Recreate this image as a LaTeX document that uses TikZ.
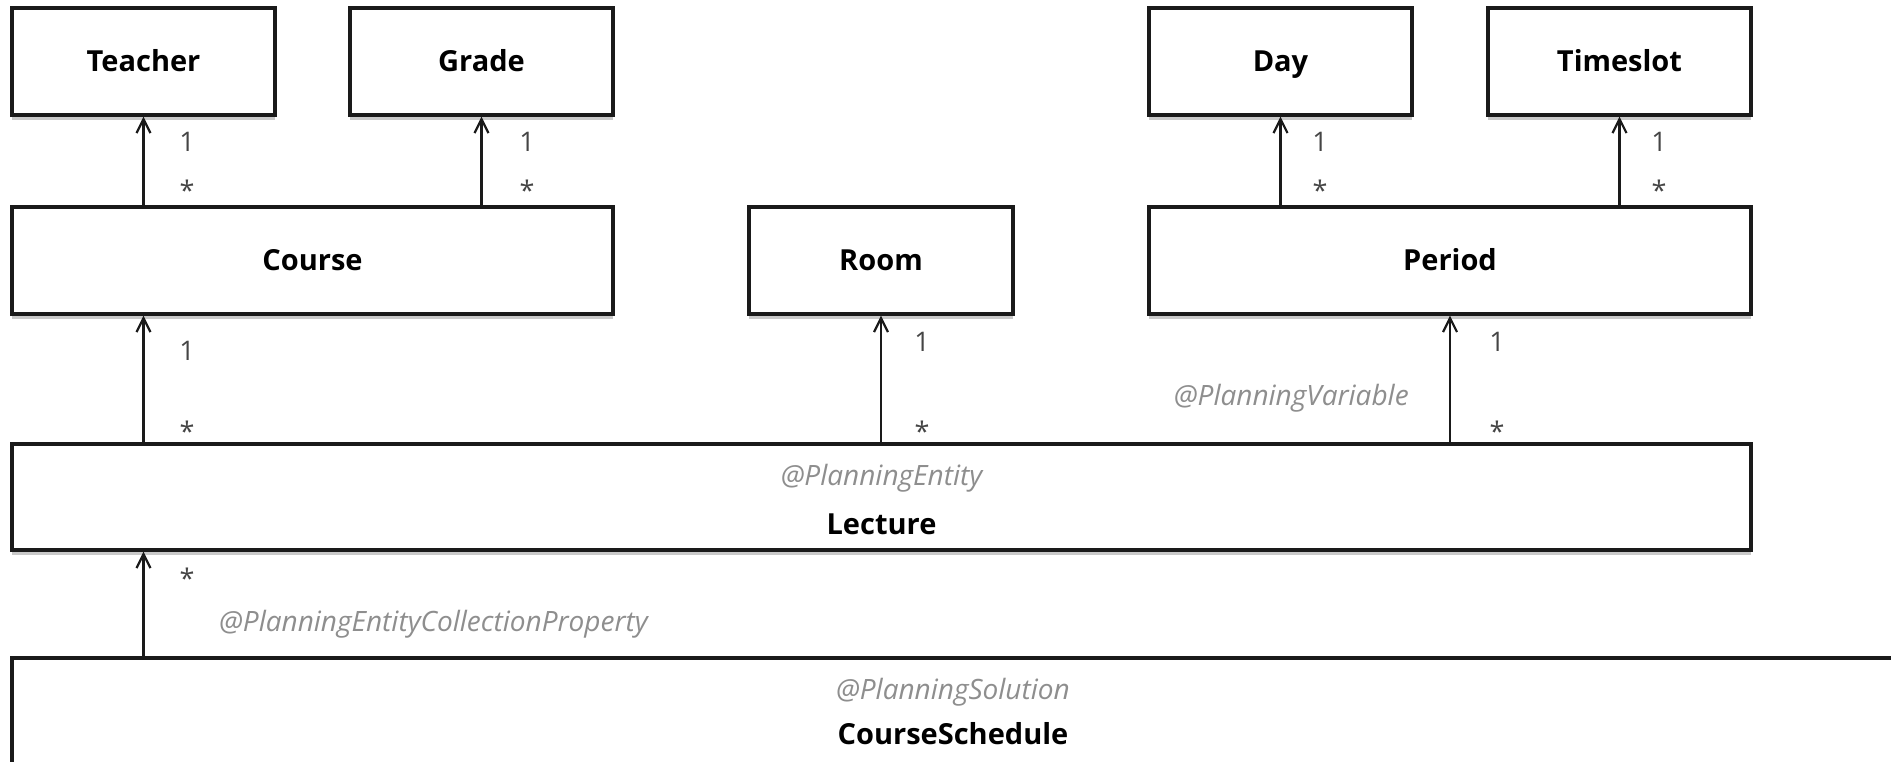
\documentclass[tikz,border=0pt]{standalone}
\usepackage{fontspec}
\setmainfont{Open Sans}
\usetikzlibrary{arrows.meta,shadows}
\definecolor{stereo}{HTML}{8E8E8E}
\definecolor{mult}{HTML}{454545}
\definecolor{edge}{HTML}{1A1A1A}
\begin{document}
\begin{tikzpicture}[x=1pt,y=-1pt,
  classbox/.style={draw=edge, line width=3.2pt, fill=white, minimum height=107pt,
    inner sep=0pt, font=\fontsize{29}{34}\selectfont\bfseries,
    text height=21pt, text depth=0pt,
    drop shadow={shadow xshift=0pt, shadow yshift=-5pt, opacity=0.35, fill=black!60}},
  classname/.style={font=\fontsize{29}{34}\selectfont\bfseries, inner sep=0pt,
    text height=21pt, text depth=0pt},
  assoc/.style={draw=edge, line width=2.2pt,
    -{Straight Barb[length=14pt,width=14pt,line width=2.2pt]}},
  multlabel/.style={font=\fontsize{27}{32}\selectfont, text=mult, inner sep=0pt},
  stereotype/.style={font=\fontsize{28}{33}\selectfont\itshape, text=stereo, inner sep=0pt},
  ]
\useasboundingbox (0,0) rectangle (1891,762);
\fill[white] (0,0) rectangle (1891,762);

% classes
\node[classbox, minimum width=263pt] (teacher)  at (143.5,61.5) {Teacher};
\node[classbox, minimum width=263pt] (grade)    at (481.5,61.5) {Grade};
\node[classbox, minimum width=263pt] (day)      at (1280.5,61.5) {Day};
\node[classbox, minimum width=263pt] (timeslot) at (1619.5,61.5) {Timeslot};
\node[classbox, minimum width=601pt] (course)   at (312.5,260.5) {Course};
\node[classbox, minimum width=264pt] (room)     at (881,260.5) {Room};
\node[classbox, minimum width=602pt] (period)   at (1450,260.5) {Period};
\node[classbox, minimum width=1739pt, minimum height=106pt] (lecture) at (881.5,497) {};
\node[stereotype] (lectureTag)  at (881.5,478) {@PlanningEntity};
\node[classname]  (lectureName) at (881.5,524) {Lecture};
\node[classbox, minimum width=1882pt, minimum height=106pt] (schedule) at (953,711) {};
\node[stereotype] (scheduleTag)  at (953,692) {@PlanningSolution};
\node[classname]  (scheduleName) at (953,734) {CourseSchedule};

% associations
\draw[assoc] (teacher.south |- course.north) -- (teacher.south);
\draw[assoc] (grade.south |- course.north) -- (grade.south);
\draw[assoc] (day.south |- period.north) -- (day.south);
\draw[assoc] (timeslot.south |- period.north) -- (timeslot.south);
\draw[assoc] (teacher.south |- lecture.north) -- (teacher.south |- course.south);
\draw[assoc] (room.south |- lecture.north) -- (room.south);
\draw[assoc] (period.south |- lecture.north) -- (period.south);
\draw[assoc] (teacher.south |- schedule.north) -- (teacher.south |- lecture.south);

% multiplicities
\node[multlabel] (m1) at (187,142) {1};
\node[multlabel] (m2) at (187,190) {*};
\node[multlabel] (m3) at (527,142) {1};
\node[multlabel] (m4) at (527,190) {*};
\node[multlabel] (m5) at (1320,142) {1};
\node[multlabel] (m6) at (1320,190) {*};
\node[multlabel] (m7) at (1659,142) {1};
\node[multlabel] (m8) at (1659,190) {*};
\node[multlabel] (m9)  at (187,351) {1};
\node[multlabel] (m10) at (187,431) {*};
\node[multlabel] (m11) at (922,342) {1};
\node[multlabel] (m12) at (922,431) {*};
\node[multlabel] (m13) at (1497,342) {1};
\node[multlabel] (m14) at (1497,431) {*};
\node[multlabel] (m15) at (187,578) {*};

% role annotations
\node[stereotype, anchor=east] (varTag) at (1409,398) {@PlanningVariable};
\node[stereotype, anchor=west] (collTag) at (219,624) {@PlanningEntityCollectionProperty};
\end{tikzpicture}
\end{document}
